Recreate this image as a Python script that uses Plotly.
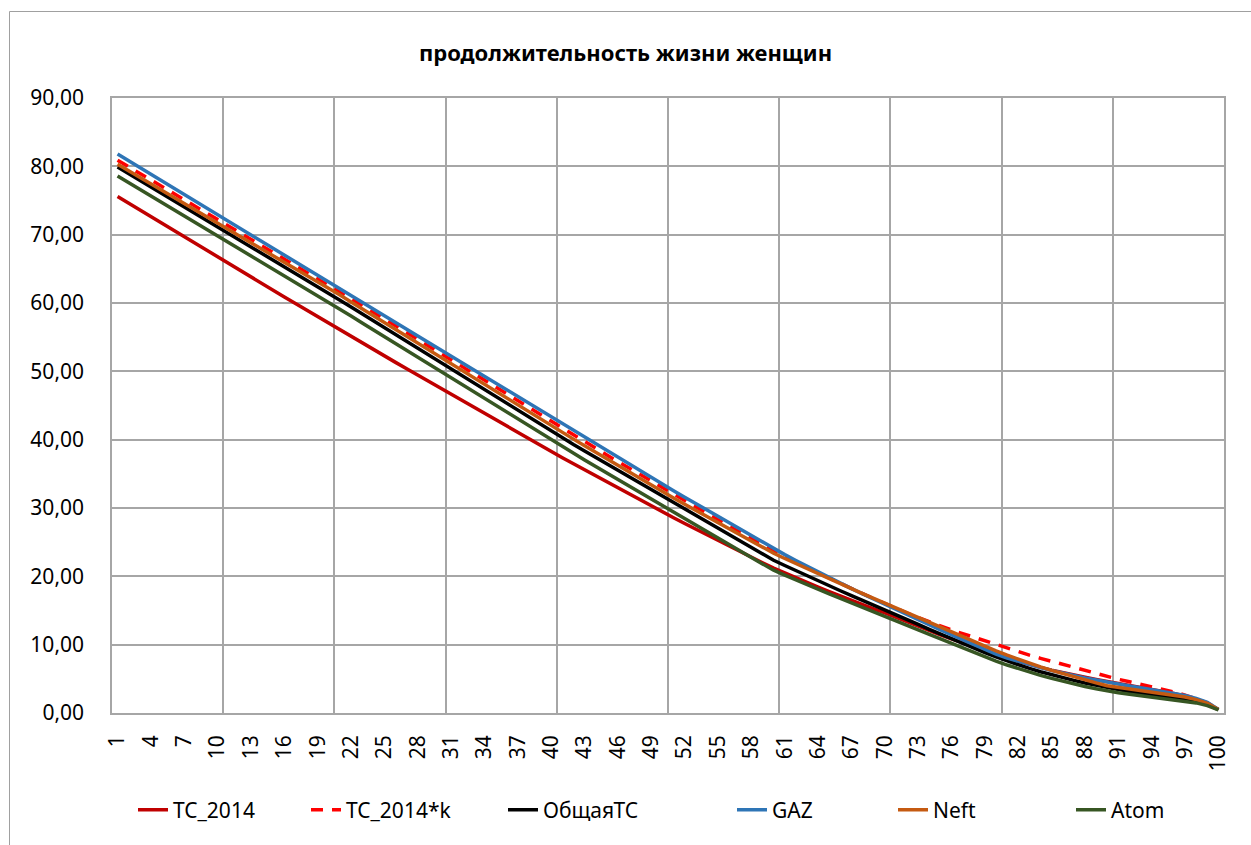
import plotly.graph_objects as go

ages = list(range(1, 101))
tick_labels = [str(v) for v in range(1, 101, 3)]
y_ticks = [0, 10, 20, 30, 40, 50, 60, 70, 80, 90]

tc_2014 = [75.60, 74.61, 73.61, 72.62, 71.63, 70.65, 69.66, 68.68, 67.70, 66.72,
           65.74, 64.76, 63.79, 62.82, 61.85, 60.88, 59.92, 58.95, 57.99, 57.03,
           56.07, 55.12, 54.17, 53.21, 52.26, 51.31, 50.37, 49.43, 48.49, 47.55,
           46.61, 45.67, 44.74, 43.81, 42.88, 41.95, 41.02, 40.10, 39.17, 38.25,
           37.36, 36.47, 35.58, 34.70, 33.82, 32.94, 32.06, 31.18, 30.30, 29.43,
           28.58, 27.73, 26.89, 26.05, 25.22, 24.40, 23.59, 22.79, 21.99, 21.20,
           20.48, 19.78, 19.09, 18.42, 17.76, 17.11, 16.47, 15.84, 15.24, 14.65,
           13.99, 13.34, 12.70, 12.07, 11.45, 10.84, 10.24, 9.66, 9.10, 8.55,
           8.03, 7.55, 7.10, 6.68, 6.28, 5.90, 5.55, 5.22, 4.90, 4.60,
           4.32, 4.05, 3.78, 3.50, 3.20, 2.85, 2.45, 2.00, 1.42, 0.50]

tc_2014_k = [80.90, 79.94, 78.98, 78.02, 77.06, 76.10, 75.14, 74.18, 73.22, 72.26,
             71.30, 70.34, 69.38, 68.42, 67.46, 66.50, 65.54, 64.58, 63.62, 62.66,
             61.66, 60.66, 59.66, 58.66, 57.66, 56.65, 55.64, 54.63, 53.62, 52.61,
             51.61, 50.61, 49.61, 48.61, 47.61, 46.61, 45.61, 44.61, 43.61, 42.60,
             41.63, 40.66, 39.69, 38.72, 37.75, 36.79, 35.83, 34.87, 33.91, 32.95,
             32.01, 31.07, 30.14, 29.21, 28.28, 27.35, 26.42, 25.49, 24.55, 23.62,
             22.82, 22.03, 21.25, 20.48, 19.71, 18.95, 18.20, 17.46, 16.73, 16.00,
             15.30, 14.62, 13.96, 13.33, 12.72, 12.15, 11.62, 11.08, 10.55, 9.98,
             9.45, 8.95, 8.47, 8.00, 7.56, 7.11, 6.67, 6.22, 5.76, 5.32,
             4.93, 4.58, 4.23, 3.88, 3.50, 3.08, 2.62, 2.12, 1.50, 0.52]

obshaya_tc = [79.90, 78.93, 77.96, 76.99, 76.02, 75.05, 74.08, 73.11, 72.14, 71.17,
              70.20, 69.23, 68.26, 67.29, 66.32, 65.34, 64.36, 63.38, 62.40, 61.42,
              60.41, 59.40, 58.39, 57.38, 56.37, 55.36, 54.35, 53.34, 52.33, 51.32,
              50.31, 49.30, 48.29, 47.28, 46.27, 45.26, 44.25, 43.24, 42.23, 41.21,
              40.25, 39.30, 38.35, 37.40, 36.45, 35.50, 34.55, 33.60, 32.65, 31.70,
              30.76, 29.82, 28.88, 27.95, 27.02, 26.09, 25.16, 24.23, 23.29, 22.35,
              21.58, 20.82, 20.07, 19.33, 18.60, 17.89, 17.19, 16.50, 15.82, 15.15,
              14.41, 13.68, 12.96, 12.25, 11.55, 10.86, 10.18, 9.51, 8.85, 8.20,
              7.60, 7.04, 6.52, 6.04, 5.59, 5.17, 4.77, 4.39, 4.03, 3.70,
              3.42, 3.16, 2.92, 2.70, 2.48, 2.25, 2.00, 1.70, 1.25, 0.50]

gaz = [81.80, 80.82, 79.84, 78.86, 77.88, 76.90, 75.91, 74.92, 73.93, 72.94,
       71.95, 70.96, 69.97, 68.98, 67.99, 67.01, 66.03, 65.05, 64.07, 63.09,
       62.10, 61.11, 60.12, 59.13, 58.14, 57.15, 56.16, 55.17, 54.18, 53.19,
       52.20, 51.21, 50.22, 49.23, 48.24, 47.25, 46.26, 45.27, 44.28, 43.29,
       42.31, 41.33, 40.35, 39.37, 38.39, 37.41, 36.43, 35.45, 34.47, 33.49,
       32.54, 31.59, 30.64, 29.69, 28.74, 27.80, 26.86, 25.92, 24.98, 24.05,
       23.18, 22.32, 21.47, 20.64, 19.82, 19.01, 18.21, 17.43, 16.66, 15.90,
       15.13, 14.37, 13.62, 12.88, 12.15, 11.42, 10.70, 9.99, 9.29, 8.60,
       8.05, 7.55, 7.08, 6.64, 6.23, 5.84, 5.48, 5.14, 4.82, 4.50,
       4.22, 3.95, 3.68, 3.42, 3.16, 2.88, 2.56, 2.15, 1.55, 0.52]

neft = [80.30, 79.35, 78.40, 77.45, 76.50, 75.55, 74.60, 73.65, 72.70, 71.75,
        70.80, 69.85, 68.89, 67.93, 66.97, 66.01, 65.05, 64.09, 63.13, 62.17,
        61.16, 60.15, 59.14, 58.13, 57.12, 56.11, 55.10, 54.09, 53.08, 52.07,
        51.06, 50.05, 49.04, 48.03, 47.02, 46.02, 45.02, 44.02, 43.02, 42.02,
        41.05, 40.08, 39.11, 38.14, 37.17, 36.21, 35.25, 34.29, 33.33, 32.38,
        31.46, 30.55, 29.64, 28.73, 27.83, 26.93, 26.04, 25.15, 24.26, 23.38,
        22.61, 21.85, 21.10, 20.36, 19.63, 18.91, 18.19, 17.48, 16.78, 16.10,
        15.37, 14.65, 13.93, 13.22, 12.52, 11.82, 11.13, 10.45, 9.77, 9.10,
        8.46, 7.86, 7.29, 6.75, 6.24, 5.75, 5.28, 4.84, 4.41, 4.00,
        3.77, 3.55, 3.33, 3.10, 2.87, 2.62, 2.33, 1.95, 1.40, 0.50]

atom = [78.60, 77.63, 76.66, 75.69, 74.72, 73.75, 72.78, 71.81, 70.84, 69.87,
        68.90, 67.93, 66.96, 65.99, 65.02, 64.04, 63.06, 62.08, 61.10, 60.12,
        59.11, 58.10, 57.09, 56.08, 55.07, 54.06, 53.05, 52.04, 51.03, 50.02,
        49.01, 48.00, 46.99, 45.98, 44.97, 43.96, 42.95, 41.94, 40.93, 39.91,
        38.95, 37.99, 37.03, 36.07, 35.11, 34.15, 33.19, 32.23, 31.27, 30.31,
        29.36, 28.41, 27.46, 26.51, 25.57, 24.63, 23.69, 22.75, 21.82, 20.90,
        20.18, 19.47, 18.78, 18.10, 17.43, 16.77, 16.12, 15.48, 14.86, 14.25,
        13.55, 12.86, 12.18, 11.51, 10.84, 10.18, 9.52, 8.87, 8.23, 7.60,
        7.02, 6.48, 5.98, 5.51, 5.07, 4.65, 4.26, 3.89, 3.54, 3.20,
        2.97, 2.76, 2.56, 2.37, 2.18, 1.98, 1.76, 1.48, 1.08, 0.45]

series = [
    ("TC_2014", tc_2014, "#C00000", "solid"),
    ("TC_2014*k", tc_2014_k, "#FF0000", "12px,9px"),
    ("ОбщаяТС", obshaya_tc, "#000000", "solid"),
    ("GAZ", gaz, "#2E75B6", "solid"),
    ("Neft", neft, "#C55A11", "solid"),
    ("Atom", atom, "#375623", "solid"),
]

FONT = "Noto Sans, Open Sans, Liberation Sans, sans-serif"
W, H = 1251, 845
L, R, T, B = 112, 27, 98, 132
PW = W - L - R
PH = H - T - B

def px_x(px):
    return (px - L) / PW

def px_y(py):
    return (H - B - py) / PH

# text start positions of the legend entries (pixels)
legend_text_x = [175, 348, 545, 774, 935, 1113]

fig = go.Figure()
layout_legends = {}
for i, (name, vals, color, dash) in enumerate(series):
    lg = "legend" if i == 0 else f"legend{i + 1}"
    fig.add_trace(go.Scatter(
        x=ages, y=vals, name=name, mode="lines",
        line=dict(color=color, width=3.5, dash=dash),
        legend=lg,
    ))
    layout_legends[lg] = dict(
        x=px_x(legend_text_x[i] - 42), y=px_y(810),
        xanchor="left", yanchor="middle",
        orientation="h", bgcolor="rgba(0,0,0,0)",
        font=dict(family=FONT, size=21, color="#000000"),
    )

grid_c = "#A6A6A6"
fig.update_layout(
    width=W, height=H,
    margin=dict(l=L, r=R, t=T, b=B),
    paper_bgcolor="white", plot_bgcolor="white",
    separators=", ",
    title=dict(text="<b>продолжительность жизни женщин</b>",
               x=0.5, xref="container", xanchor="center",
               y=1 - 53 / H, yref="container", yanchor="middle",
               font=dict(family=FONT, size=22, color="#000000")),
    font=dict(family=FONT, size=21, color="#000000"),
    showlegend=True,
    **layout_legends,
)
fig.update_xaxes(
    range=[0.5, 100.5], tickmode="array",
    tickvals=[int(t) for t in tick_labels], ticktext=tick_labels,
    tickangle=-90, showgrid=False, zeroline=False,
    showline=True, linecolor=grid_c, linewidth=1.5, mirror=True,
    ticks="", ticklabelstandoff=12,
    tickfont=dict(family=FONT, size=21, color="#000000"),
    minor=dict(tickmode="array", tickvals=[0.5 + 10 * k for k in range(11)],
               showgrid=True, gridcolor=grid_c, gridwidth=1.5, ticks=""),
)
fig.update_yaxes(
    range=[0, 90], tickmode="array", tickvals=y_ticks, tickformat=".2f",
    showgrid=True, gridcolor=grid_c, gridwidth=1.5, zeroline=False,
    showline=True, linecolor=grid_c, linewidth=1.5, mirror=True,
    ticks="", ticklabelstandoff=22,
    tickfont=dict(family=FONT, size=21, color="#000000"),
)
fig.add_shape(type="rect", xref="paper", yref="paper",
              x0=px_x(9.5), x1=px_x(1262), y0=px_y(860), y1=px_y(11.5),
              line=dict(color="#A0A0A0", width=1), layer="below")

fig.write_html("out.html")
